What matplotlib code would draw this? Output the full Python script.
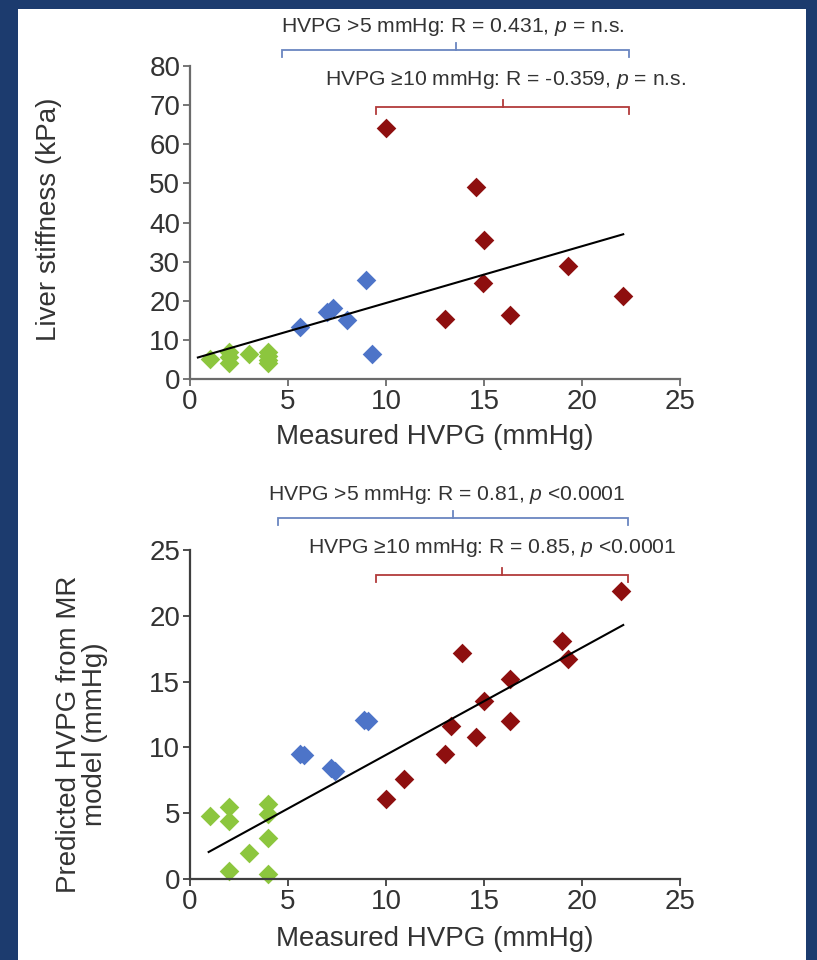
import matplotlib
matplotlib.use('Agg')
import matplotlib.pyplot as plt
import matplotlib.transforms as mtransforms
from matplotlib.patches import Rectangle

plt.rcParams['font.family'] = ['Liberation Sans', 'DejaVu Sans']
plt.rcParams['mathtext.fontset'] = 'custom'
plt.rcParams['mathtext.it'] = 'Liberation Sans:italic'
plt.rcParams['mathtext.rm'] = 'Liberation Sans'

# top panel: liver stiffness vs measured HVPG
ls_green_x = [1, 2, 2, 2, 3, 4, 4, 4, 4]
ls_green_y = [5, 4, 6.8, 5.5, 6.3, 4.2, 4.8, 6.8, 5.8]
ls_blue_x = [5.6, 7.0, 7.3, 8.0, 9.0, 9.3]
ls_blue_y = [13.3, 17.1, 18.1, 15.0, 25.2, 6.3]
ls_red_x = [10.0, 14.6, 15.0, 14.95, 13.0, 16.3, 19.3, 22.1]
ls_red_y = [64.2, 49.1, 35.6, 24.5, 15.4, 16.4, 28.8, 21.2]
ls_fit_x = [0.4, 22.1]
ls_fit_y = [5.5, 37.0]

# bottom panel: predicted HVPG from MR model vs measured HVPG
mr_green_x = [1, 2, 2, 2, 3, 4, 4, 4, 4]
mr_green_y = [4.8, 5.5, 4.4, 0.6, 2.0, 5.7, 4.9, 3.15, 0.35]
mr_blue_x = [5.6, 5.8, 7.2, 7.4, 8.9, 9.1]
mr_blue_y = [9.5, 9.4, 8.4, 8.2, 12.1, 12.0]
mr_red_x = [10.0, 10.9, 13.0, 13.3, 13.9, 14.6, 15.0, 16.3, 16.3, 19.0, 19.3, 22.0]
mr_red_y = [6.1, 7.6, 9.5, 11.6, 17.2, 10.8, 13.5, 15.2, 12.0, 18.1, 16.7, 21.9]
mr_fit_x = [0.95, 22.1]
mr_fit_y = [2.05, 19.3]

xticks = [0, 5, 10, 15, 20, 25]
ls_yticks = [0, 10, 20, 30, 40, 50, 60, 70, 80]
mr_yticks = [0, 5, 10, 15, 20, 25]

ls_notes = ['HVPG >5 mmHg: R = 0.431, $\\it{p}$ = n.s.',
            'HVPG \u226510 mmHg: R = -0.359, $\\it{p}$ = n.s.']
mr_notes = ['HVPG >5 mmHg: R = 0.81, $\\it{p}$ <0.0001',
            'HVPG \u226510 mmHg: R = 0.85, $\\it{p}$ <0.0001']

GREEN = '#8cc63e'
BLUE = '#4d74c8'
RED = '#8e0f0f'
BLUE_LINE = '#6a86c0'
RED_LINE = '#b23a3a'
TEXT = '#333333'
LABEL_SIZE = 20
NOTE_SIZE = 15.2


def bracket(ax, x0, x1, y, color):
    # bracket with x in data units, y in axes fraction
    tr = mtransforms.blended_transform_factory(ax.transData, ax.transAxes)
    dy = 0.022
    xm = (x0 + x1) / 2
    ax.plot([x0, x0, x1, x1], [y - dy, y, y, y - dy], color=color, lw=1.3,
            transform=tr, clip_on=False, solid_joinstyle='miter')
    ax.plot([xm, xm], [y, y + dy], color=color, lw=1.3, transform=tr, clip_on=False)


def style_axes(ax, xlim, ylim, yticks, spine_color):
    ax.set_xlim(*xlim)
    ax.set_ylim(*ylim)
    ax.set_xticks(xticks)
    ax.set_yticks(yticks)
    for s in ['top', 'right']:
        ax.spines[s].set_visible(False)
    for s in ['left', 'bottom']:
        ax.spines[s].set_color(spine_color)
        ax.spines[s].set_linewidth(1.6)
    ax.tick_params(direction='out', length=5, width=1.3, color=spine_color,
                   labelsize=LABEL_SIZE, labelcolor=TEXT, pad=2)
    ax.set_facecolor('none')


fig = plt.figure(figsize=(8.17, 9.6), dpi=100)
fig.patch.set_facecolor('#1c3b6e')
fig.add_artist(Rectangle((18 / 817, 0), (806 - 18) / 817, 1 - 9 / 960,
                         transform=fig.transFigure, facecolor='white',
                         edgecolor='none', zorder=-1))

ms = 100
# top panel
ax1 = fig.add_axes([0.2326, 0.6052, 0.5998, 0.326])
ax1.plot(ls_fit_x, ls_fit_y, color='black', lw=1.5, zorder=3)
ax1.scatter(ls_green_x, ls_green_y, marker='D', s=ms, color=GREEN, lw=0, clip_on=False, zorder=2)
ax1.scatter(ls_blue_x, ls_blue_y, marker='D', s=ms, color=BLUE, lw=0, clip_on=False, zorder=2)
ax1.scatter(ls_red_x, ls_red_y, marker='D', s=ms, color=RED, lw=0, clip_on=False, zorder=2)
style_axes(ax1, (0, 25), (0, 80), ls_yticks, '#6b6b6b')
ax1.set_xlabel('Measured HVPG (mmHg)', fontsize=LABEL_SIZE, color=TEXT, labelpad=7)
ax1.set_ylabel('Liver stiffness (kPa)', fontsize=LABEL_SIZE, color=TEXT)
ax1.yaxis.set_label_coords(-0.262, 0.51)
bracket(ax1, 4.7, 22.4, 1.051, BLUE_LINE)
bracket(ax1, 9.5, 22.4, 0.869, RED_LINE)
tr1 = mtransforms.blended_transform_factory(ax1.transData, ax1.transAxes)
ax1.text(13.4, 1.125, ls_notes[0], transform=tr1, ha='center', va='center',
         fontsize=NOTE_SIZE, color=TEXT)
ax1.text(16.1, 0.955, ls_notes[1], transform=tr1, ha='center', va='center',
         fontsize=NOTE_SIZE, color=TEXT)

# bottom panel
ax2 = fig.add_axes([0.2326, 0.0844, 0.5998, 0.3427])
ax2.plot(mr_fit_x, mr_fit_y, color='black', lw=1.5, zorder=3)
ax2.scatter(mr_green_x, mr_green_y, marker='D', s=ms, color=GREEN, lw=0, clip_on=False, zorder=2)
ax2.scatter(mr_blue_x, mr_blue_y, marker='D', s=ms, color=BLUE, lw=0, clip_on=False, zorder=2)
ax2.scatter(mr_red_x, mr_red_y, marker='D', s=ms, color=RED, lw=0, clip_on=False, zorder=2)
style_axes(ax2, (0, 25), (0, 25), mr_yticks, '#3f3f3f')
ax2.set_xlabel('Measured HVPG (mmHg)', fontsize=LABEL_SIZE, color=TEXT, labelpad=8)
ax2.set_ylabel('Predicted HVPG from MR\nmodel (mmHg)', fontsize=LABEL_SIZE, color=TEXT,
               linespacing=1.0)
ax2.yaxis.set_label_coords(-0.167, 0.44)
bracket(ax2, 4.5, 22.35, 1.097, BLUE_LINE)
bracket(ax2, 9.5, 22.35, 0.924, RED_LINE)
tr2 = mtransforms.blended_transform_factory(ax2.transData, ax2.transAxes)
ax2.text(13.1, 1.167, mr_notes[0], transform=tr2, ha='center', va='center',
         fontsize=NOTE_SIZE, color=TEXT)
ax2.text(15.4, 1.006, mr_notes[1], transform=tr2, ha='center', va='center',
         fontsize=NOTE_SIZE, color=TEXT)

fig.savefig('out.png', dpi=100, facecolor=fig.get_facecolor())
plt.close(fig)
